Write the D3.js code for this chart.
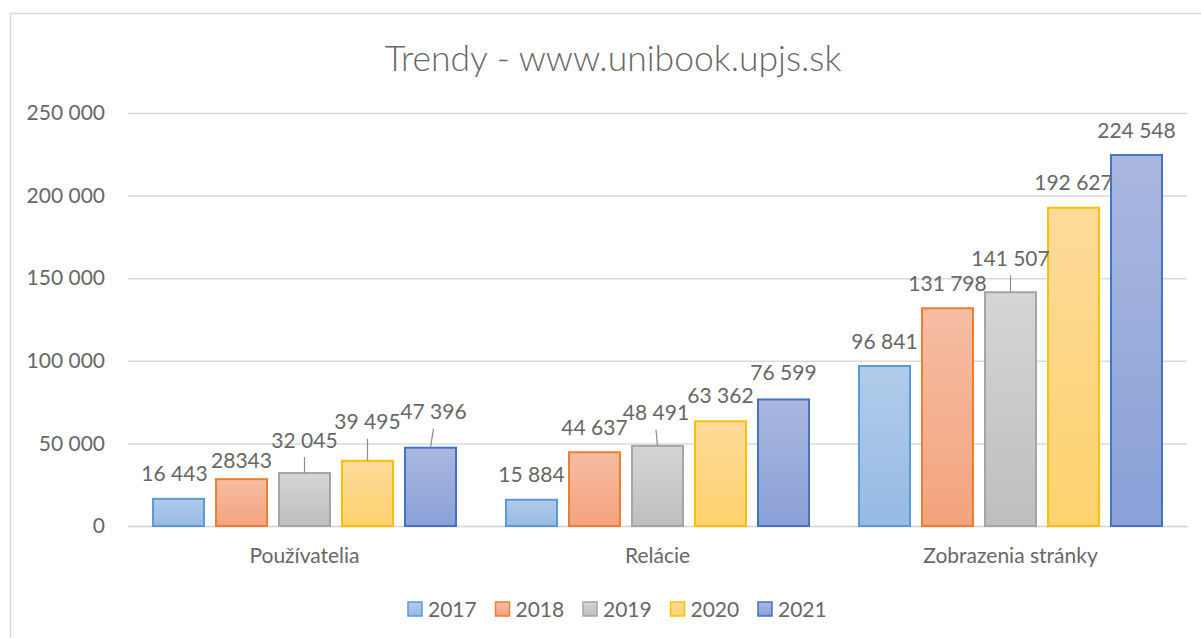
<!DOCTYPE html>
<html>
<head>
<meta charset="utf-8">
<script src="https://cdn.jsdelivr.net/npm/d3@7"></script>
<style>
  html, body { margin: 0; padding: 0; background: #fff; }
  svg { display: block; font-family: Lato, "Open Sans", sans-serif; }
</style>
</head>
<body>
<svg id="chart" width="1201" height="638"></svg>
<script>
const categories = ["Používatelia", "Relácie", "Zobrazenia stránky"];
const years = ["2017", "2018", "2019", "2020", "2021"];
const values2017 = [16443, 15884, 96841];
const values2018 = [28343, 44637, 131798];
const values2019 = [32045, 48491, 141507];
const values2020 = [39495, 63362, 192627];
const values2021 = [47396, 76599, 224548];
// label text as shown in the chart (one label has no thousands space)
const labels2017 = ["16 443", "15 884", "96 841"];
const labels2018 = ["28343", "44 637", "131 798"];
const labels2019 = ["32 045", "48 491", "141 507"];
const labels2020 = ["39 495", "63 362", "192 627"];
const labels2021 = ["47 396", "76 599", "224 548"];
const yTicks = [0, 50000, 100000, 150000, 200000, 250000];

const series = [
  { year: "2017", values: values2017, labels: labels2017 },
  { year: "2018", values: values2018, labels: labels2018 },
  { year: "2019", values: values2019, labels: labels2019 },
  { year: "2020", values: values2020, labels: labels2020 },
  { year: "2021", values: values2021, labels: labels2021 }
];

// styling
const COLORS = {
  "2017": { stroke: "#5b9bd5", top: "#b1cbea", bottom: "#96bae4" },
  "2018": { stroke: "#ed7d31", top: "#f6bda3", bottom: "#f4a37d" },
  "2019": { stroke: "#a5a5a5", top: "#d5d5d5", bottom: "#bebebe" },
  "2020": { stroke: "#ffc000", top: "#fddb9a", bottom: "#fed26e" },
  "2021": { stroke: "#4472c4", top: "#aab8e0", bottom: "#8aa0d7" }
};
const TEXT = "#676767";
const GRID = "#d9d9d9";
const PLOT = { left: 128, right: 1187, top: 113, bottom: 526 };

// manual nudges of individual data labels, as placed in the original chart
// key: "yearIndex-categoryIndex" -> [dx, dy]
const LABEL_NUDGE = {
  "0-0": [-4, 0],
  "1-0": [0, 6],
  "2-0": [0, -8],
  "3-0": [0, -14],
  "4-0": [3, -11],
  "2-1": [-1.5, -8],
  "3-1": [0, -1],
  "4-1": [0, -2],
  "2-2": [0, -9]
};

const svg = d3.select("#chart");

// chart area border
svg.append("rect")
  .attr("x", 10.5)
  .attr("y", 13.5)
  .attr("width", 1300)
  .attr("height", 800)
  .attr("fill", "none")
  .attr("stroke", GRID)
  .attr("stroke-width", 1.5);

// gradients
const defs = svg.append("defs");
years.forEach(y => {
  const g = defs.append("linearGradient")
    .attr("id", "grad" + y)
    .attr("x1", 0).attr("y1", 0).attr("x2", 0).attr("y2", 1);
  g.append("stop").attr("offset", "0%").attr("stop-color", COLORS[y].top);
  g.append("stop").attr("offset", "100%").attr("stop-color", COLORS[y].bottom);
});

// title
svg.append("text")
  .text("Trendy - www.unibook.upjs.sk")
  .attr("x", 613)
  .attr("y", 71)
  .attr("text-anchor", "middle")
  .attr("font-size", 35.5)
  .attr("font-weight", 300)
  .attr("fill", TEXT);

const x0 = d3.scaleBand()
  .domain(categories)
  .range([PLOT.left, PLOT.right]);
const x1 = d3.scaleBand()
  .domain(years)
  .range([0, x0.bandwidth()])
  .paddingInner(12 / 63)
  .paddingOuter(0.397);
const yScale = d3.scaleLinear()
  .domain([0, 250000])
  .range([PLOT.bottom, PLOT.top]);

// grid + y axis
const yAxis = d3.axisLeft(yScale)
  .tickValues(yTicks)
  .tickFormat(d => d3.format(",")(d).replace(/,/g, " "))
  .tickSize(-(PLOT.right - PLOT.left))
  .tickPadding(23);
const yg = svg.append("g")
  .attr("transform", `translate(${PLOT.left}, 0)`)
  .call(yAxis);
yg.select(".domain").remove();
yg.selectAll("line").attr("stroke", GRID).attr("stroke-width", 1.5);
yg.selectAll("text")
  .attr("fill", TEXT)
  .attr("font-size", 21)
  .attr("font-family", "Lato, 'Open Sans', sans-serif");

// category labels
const xAxis = d3.axisBottom(x0).tickSize(0).tickPadding(22);
const xg = svg.append("g")
  .attr("transform", `translate(0, ${PLOT.bottom})`)
  .call(xAxis);
xg.select(".domain").attr("stroke", GRID).attr("stroke-width", 1.5);
xg.selectAll("text")
  .attr("fill", TEXT)
  .attr("font-size", 21)
  .attr("font-family", "Lato, 'Open Sans', sans-serif");

// bars
const groups = svg.append("g")
  .selectAll("g")
  .data(series)
  .join("g");

groups.selectAll("rect")
  .data(s => s.values.map((v, i) => ({ year: s.year, cat: categories[i], v })))
  .join("rect")
  .attr("x", d => x0(d.cat) + x1(d.year))
  .attr("y", d => yScale(d.v))
  .attr("width", x1.bandwidth())
  .attr("height", d => yScale(0) - yScale(d.v))
  .attr("fill", d => `url(#grad${d.year})`)
  .attr("stroke", d => COLORS[d.year].stroke)
  .attr("stroke-width", 2);

// data labels + leader lines
const labelData = [];
series.forEach((s, si) => {
  s.values.forEach((v, ci) => {
    const nudge = LABEL_NUDGE[`${si}-${ci}`] || [0, 0];
    const cx = x0(categories[ci]) + x1(s.year) + x1.bandwidth() / 2;
    labelData.push({
      text: s.labels[ci],
      barX: cx,
      barTop: yScale(v),
      x: cx + nudge[0],
      y: yScale(v) - 25 + nudge[1],
      leader: nudge[1] <= -8
    });
  });
});

svg.append("g")
  .selectAll("line")
  .data(labelData.filter(d => d.leader))
  .join("line")
  .attr("x1", d => d.barX)
  .attr("y1", d => d.barTop)
  .attr("x2", d => d.x)
  .attr("y2", d => d.y + 17)
  .attr("stroke", "#8c8c8c")
  .attr("stroke-width", 1.2);

svg.append("g")
  .selectAll("text")
  .data(labelData)
  .join("text")
  .text(d => d.text)
  .attr("x", d => d.x)
  .attr("y", d => d.y + 7.5)
  .attr("text-anchor", "middle")
  .attr("font-size", 21)
  .attr("fill", TEXT);

// legend
const legend = svg.append("g")
  .attr("transform", "translate(408, 602)");
const item = legend.selectAll("g")
  .data(years)
  .join("g")
  .attr("transform", (d, i) => `translate(${i * 87.5}, 0)`);
item.append("rect")
  .attr("width", 14)
  .attr("height", 14)
  .attr("fill", d => `url(#grad${d})`)
  .attr("stroke", d => COLORS[d].stroke)
  .attr("stroke-width", 1.5);
item.append("text")
  .text(d => d)
  .attr("x", 20)
  .attr("y", 14.5)
  .attr("font-size", 21)
  .attr("fill", TEXT);
</script>
</body>
</html>
